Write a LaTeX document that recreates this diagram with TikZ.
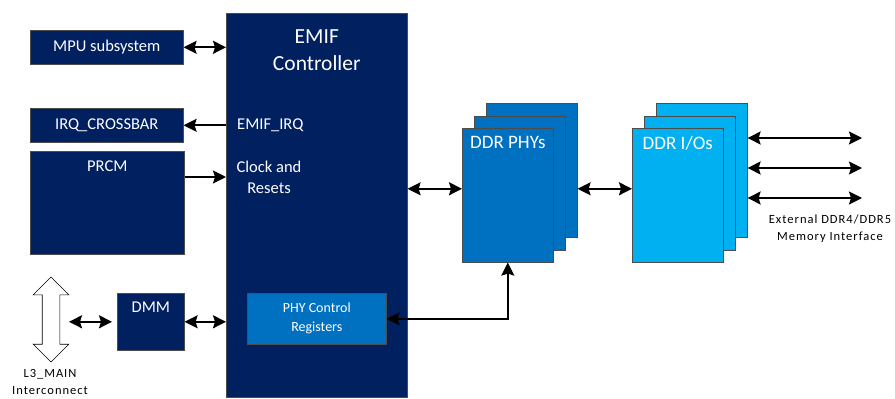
\documentclass[tikz,border=0pt]{standalone}
\usepackage{fontspec}
\setmainfont{Carlito}
\newfontfamily\widefont{Carlito}[LetterSpace=8]
\usetikzlibrary{positioning, arrows.meta, shapes.arrows}
\definecolor{navy}{HTML}{002060}
\definecolor{phyblue}{HTML}{0070C0}
\definecolor{ioblue}{HTML}{00B0F0}
\tikzset{
blk/.style={ % dark blue blocks
draw=black!70, line width=0.6pt,
fill=navy, text=white,
inner sep=0pt, anchor=north west},
card/.style={ % one sheet of a stacked block
blk, fill=phyblue,
minimum width=91, minimum height=134},
txt/.style={ % white text inside the blocks
text=white, inner sep=0pt,
font=\fontsize{16.5}{21}\selectfont},
note/.style={ % black text outside the blocks
inner sep=0pt, align=center,
font=\widefont\fontsize{12.5}{17}\selectfont},
hollow/.style={ % open double arrow of the interconnect
double arrow, draw=black, line width=0.6pt, fill=white,
rotate=90, inner sep=8.5pt,
minimum height=85,
double arrow head extend=9},
link/.style={ % black connectors
line width=1.8pt,
>={Stealth[length=13pt,width=13pt,inset=2pt]}}}

\begin{document}
\begin{tikzpicture}[x=1pt, y=-1pt]
    \useasboundingbox (0,0) rectangle (895,399);

    \node[blk, minimum width=181, minimum height=384] (emif) at (226,13) {};
    \node[txt, align=center, font=\fontsize{21.5}{27}\selectfont, below=17pt of emif.north] (title) {EMIF\\Controller};
    \node[txt, anchor=west] (irqsig) at (237,125) {EMIF\_IRQ};
    \node[txt, align=center] (clk) at (269,177) {Clock and\\Resets};
    \node[blk, fill=phyblue, minimum width=139, minimum height=51, font=\fontsize{14}{19}\selectfont, align=center] (phyreg) at (247,293) {PHY Control\\Registers};

    \node[blk, minimum width=153, minimum height=34, font=\fontsize{16.5}{20}\selectfont] (mpu) at (30,30) {MPU subsystem};
    \node[blk, minimum width=153, minimum height=34, font=\fontsize{16.5}{20}\selectfont] (irq) at (30,108) {IRQ\_CROSSBAR};
    \node[blk, minimum width=154, minimum height=103] (prcm) at (30,151) {};
    \node[txt, below=10pt of prcm.north] (prcmtxt) {PRCM};
    \node[blk, minimum width=67, minimum height=57] (dmm) at (117,293) {};
    \node[txt, below=9pt of dmm.north] (dmmtxt) {DMM};

    \node[hollow] (l3) at (51,319.5) {};
    \node[note] (l3txt) at (50,382) {L3\_MAIN\\Interconnect};

    % stacked sheets, back one first
    \foreach \i/\n in {2/phyc, 1/phyb, 0/phya}
        \node[card] (\n) at (462+12*\i, 128-12.5*\i) {};
    \foreach \i/\n in {2/ioc, 1/iob, 0/ioa}
        \node[card, fill=ioblue] (\n) at (632+12*\i, 128-12.5*\i) {};
    \node[txt, font=\fontsize{19}{22}\selectfont, below=8pt of phya.north] (phytxt) {DDR PHYs};
    \node[txt, font=\fontsize{19}{22}\selectfont, below=8pt of ioa.north] (iotxt) {DDR I/Os};
    \node[note] (exttxt) at (830,229) {External DDR4/DDR5\\Memory Interface};

    \coordinate (phyin) at ([yshift=6.5pt]phya.west);
    \foreach \y [count=\i] in {138,168,198}
        \coordinate (ext\i) at (862,\y);

    \draw[link, <->] (mpu.east) -- (emif.west |- mpu.east);
    \draw[link, ->] (emif.west |- irq.east) -- (irq.east);
    \draw[link, ->] (prcm.east |- clk.west) -- (emif.west |- clk.west);
    \draw[link, <->] (dmm.east) -- (emif.west |- dmm.east);
    \draw[link, <->, shorten >=5pt] ([xshift=18pt]l3.center |- dmm.west) -- (dmm.west);
    \draw[link, <->] (emif.east |- phyin) -- (phyin);
    \draw[link, <->] (phyc.east |- phyin) -- (ioa.west |- phyin);
    \draw[link, <->] (phyreg.east) -| (phya.south);
    \foreach \i in {1,2,3}
        \draw[link, <->] (ioc.east |- ext\i) -- (ext\i);

\end{tikzpicture}
\end{document}
